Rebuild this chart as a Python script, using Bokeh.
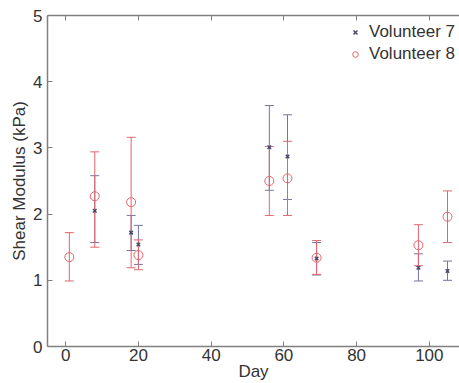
from bokeh.plotting import figure
from bokeh.models import (ColumnDataSource, Whisker, TeeHead, Legend, LegendItem,
                          LinearAxis, Range1d, FixedTicker, CustomJSTickFormatter)
from bokeh.embed import file_html
from bokeh.resources import INLINE

# ---- data ----
days7 = [8, 18, 20, 56, 61, 69, 97, 105]
v7 = [2.05, 1.72, 1.54, 3.01, 2.87, 1.33, 1.19, 1.14]
v7_lo = [1.57, 1.45, 1.24, 2.36, 2.22, 1.08, 0.99, 1.00]
v7_hi = [2.58, 1.98, 1.83, 3.64, 3.50, 1.57, 1.40, 1.29]

days8 = [1, 8, 18, 20, 56, 61, 69, 97, 105]
v8 = [1.35, 2.27, 2.18, 1.38, 2.50, 2.54, 1.34, 1.53, 1.96]
v8_lo = [0.99, 1.50, 1.19, 1.16, 1.98, 1.98, 1.09, 1.22, 1.57]
v8_hi = [1.72, 2.94, 3.16, 1.61, 3.02, 3.10, 1.60, 1.84, 2.35]

x_ticks = [0, 20, 40, 60, 80, 100]
y_ticks = [0, 1, 2, 3, 4, 5]
series_names = ["Volunteer 7", "Volunteer 8"]
x_label = "Day"
y_label = "Shear Modulus (kPa)"

FONT = "Liberation Sans"
TXT = "#333333"
AX = "#808080"
C7 = "#7474a0"
C7M = "#4a4a70"
C8 = "#e4646e"

src7 = ColumnDataSource(dict(x=days7, y=v7, lo=v7_lo, hi=v7_hi))
src8 = ColumnDataSource(dict(x=days8, y=v8, lo=v8_lo, hi=v8_hi))

p = figure(width=459, height=383, frame_width=412, frame_height=331,
           x_range=Range1d(-5, 108.3), y_range=Range1d(0, 5),
           output_backend="svg", toolbar_location=None,
           x_axis_location=None, y_axis_location=None,
           min_border_left=47, min_border_right=0, min_border_top=15,
           min_border_bottom=37, background_fill_color="white",
           border_fill_color="white")
p.outline_line_color = None
p.xgrid.visible = False
p.ygrid.visible = False

def style_axis(ax):
    ax.axis_line_color = AX
    ax.axis_line_width = 1.5
    ax.major_tick_line_color = AX
    ax.major_tick_in = 5
    ax.major_tick_out = 0
    ax.minor_tick_line_color = None
    ax.major_label_text_font = FONT
    ax.major_label_text_color = TXT
    ax.major_label_text_font_size = "17px"
    ax.axis_label_text_font = FONT
    ax.axis_label_text_font_style = "normal"
    ax.axis_label_text_color = TXT
    ax.axis_label_text_font_size = "17px"

xb = LinearAxis(ticker=FixedTicker(ticks=x_ticks), axis_label=x_label)
style_axis(xb)
xb.major_label_standoff = 2
xb.axis_label_standoff = -2
p.add_layout(xb, "below")

xt = LinearAxis(ticker=FixedTicker(ticks=x_ticks),
                formatter=CustomJSTickFormatter(code="return ''"))
style_axis(xt)
xt.major_label_standoff = 0
p.add_layout(xt, "above")

yl = LinearAxis(ticker=FixedTicker(ticks=y_ticks), axis_label=y_label)
style_axis(yl)
yl.major_label_standoff = 5
yl.axis_label_standoff = 1
p.add_layout(yl, "left")

# error bars
w7 = Whisker(base="x", lower="lo", upper="hi", source=src7, dimension="height",
             line_color=C7, line_width=1,
             upper_head=TeeHead(size=9, line_color=C7, line_width=1),
             lower_head=TeeHead(size=9, line_color=C7, line_width=1))
p.add_layout(w7)
w8 = Whisker(base="x", lower="lo", upper="hi", source=src8, dimension="height",
             line_color=C8, line_width=1,
             upper_head=TeeHead(size=9, line_color=C8, line_width=1),
             lower_head=TeeHead(size=9, line_color=C8, line_width=1))
p.add_layout(w8)

r7 = p.scatter("x", "y", source=src7, marker="x", size=5, line_color=C7M, line_width=1.5)
r8 = p.scatter("x", "y", source=src8, marker="circle", size=9, fill_color=None,
               line_color=C8, line_width=1)

legend = Legend(items=[LegendItem(label=series_names[0], renderers=[r7]),
                       LegendItem(label=series_names[1], renderers=[r8])],
                location=(301, 282), orientation="vertical")
legend.border_line_color = None
legend.background_fill_alpha = 1
legend.label_text_font = FONT
legend.label_text_font_size = "17px"
legend.label_text_color = TXT
legend.glyph_width = 14
legend.glyph_height = 20
legend.label_height = 20
legend.label_standoff = 7
legend.padding = 2
legend.spacing = 2
legend.margin = 0
p.add_layout(legend)

open("out.html", "w").write(file_html(p, INLINE))
